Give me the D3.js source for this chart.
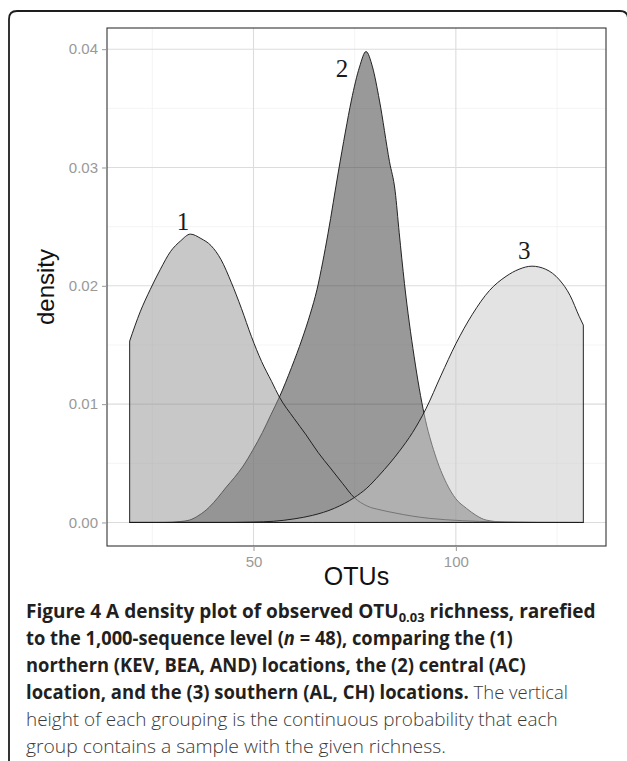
<!DOCTYPE html>
<html>
<head>
<meta charset="utf-8">
<script src="https://cdn.jsdelivr.net/npm/d3@7"></script>
<style>
  html, body { margin: 0; padding: 0; background: #fff; }
  svg { display: block; }
</style>
</head>
<body>
<svg id="chart" width="627" height="761"></svg>
<script>
// ---------------- DATA ----------------
const groupLabels = ["1", "2", "3"];

// Group 1 (northern) density curve
const g1X = [19.4, 22, 24.5, 27, 29.5, 32, 34.4, 37, 39.5, 42, 44.5, 47, 49.5, 52, 54.5, 56.4, 60, 63, 66, 69, 72, 74.9, 78, 81.5, 85, 89, 93.4, 101.6, 110, 120, 131.5];
const g1Y = [0.01533, 0.0178, 0.0197, 0.0214, 0.0229, 0.0238, 0.02437, 0.0240, 0.0234, 0.0222, 0.0203, 0.0181, 0.0157, 0.0136, 0.0119, 0.0106, 0.0088, 0.0074, 0.0059, 0.0046, 0.0033, 0.0021, 0.0014, 0.00105, 0.0008, 0.00055, 0.00035, 0.00015, 0.00005, 0.00001, 0];

// Group 2 (central) density curve
const g2X = [19.4, 28, 32, 34.2, 36.5, 39.1, 41.2, 43.3, 45.3, 47.3, 49.8, 52.2, 54.3, 56.4, 59.4, 62.0, 64.0, 65.7, 67.1, 68.4, 71.0, 72.7, 74.2, 76.2, 77.8, 79.4, 81.1, 83.6, 85.0, 86.0, 87.3, 89.7, 92.2, 94.8, 97.7, 100, 102.6, 105, 107.5, 112, 120, 131.5];
const g2Y = [0, 0, 0.00008, 0.0002, 0.0006, 0.0013, 0.0021, 0.0030, 0.0038, 0.0047, 0.0061, 0.0076, 0.0091, 0.0106, 0.0131, 0.0155, 0.0176, 0.0197, 0.0220, 0.0244, 0.0297, 0.0330, 0.0357, 0.0385, 0.0398, 0.0385, 0.0357, 0.0305, 0.0280, 0.0245, 0.0202, 0.0140, 0.0091, 0.0058, 0.0033, 0.0020, 0.0012, 0.0006, 0.0002, 0.00003, 0, 0];

// Group 3 (southern) density curve
const g3X = [19.4, 45, 50, 55, 60, 64.6, 70, 74.9, 78, 81.1, 86.0, 89.3, 92.6, 96.3, 100.0, 104.1, 108.3, 112.4, 115.6, 118.8, 122.2, 125.6, 128.2, 130.5, 131.5];
const g3Y = [0, 0, 0.00003, 0.0001, 0.0003, 0.0006, 0.0012, 0.0021, 0.0029, 0.0040, 0.0060, 0.0076, 0.0096, 0.0124, 0.0151, 0.0176, 0.0196, 0.0208, 0.0214, 0.02166, 0.0214, 0.0205, 0.0192, 0.0174, 0.01668];

const xTicks = [50, 100];
const xMinorTicks = [25, 75, 125];
const yTicks = [0, 0.01, 0.02, 0.03, 0.04];
const yMinorTicks = [0.005, 0.015, 0.025, 0.035];
const xDomain = [13.8, 137.1];
const yDomain = [-0.00199, 0.04179];
const xTitle = "OTUs";
const yTitle = "density";

// caption: each line is a list of [text, style] segments
const captionLines = [
  [["Figure 4 A density plot of observed OTU", "b"], ["0.03", "sub"], [" richness, rarefied", "b"]],
  [["to the 1,000-sequence level (", "b"], ["n", "bi"], [" = 48), comparing the (1)", "b"]],
  [["northern (KEV, BEA, AND) locations, the (2) central (AC)", "b"]],
  [["location, and the (3) southern (AL, CH) locations.", "b"], [" The vertical", "l"]],
  [["height of each grouping is the continuous probability that each", "l"]],
  [["group contains a sample with the given richness.", "l"]]
];

// ---------------- STYLE ----------------
const style = {
  panel: { left: 107, right: 606, top: 28, bottom: 546 },
  fills: ["#929292", "#333333", "#c8c8c8"],
  fillOpacity: 0.5,
  drawOrder: [1, 0, 2],
  labelOffsets: [[-7.4, -12.3], [-24, 17], [-7.7, -16]],
  captionX: 26, captionBaseline: 618, captionLineH: 27,
  captionWidths: [570, 487, 500, 542, 532, 420],
  captionSize: 19
};

// ---------------- DRAW ----------------
const svg = d3.select("#chart");
const P = style.panel;
const x = d3.scaleLinear().domain(xDomain).range([P.left, P.right]);
const y = d3.scaleLinear().domain(yDomain).range([P.bottom, P.top]);

// outer figure frame (right side falls just outside the picture)
svg.append("path")
  .attr("d", "M9,770 V19 Q9,11 17,11 H620 Q628,11 628,19 V770")
  .attr("fill", "none").attr("stroke", "#1e1e1e").attr("stroke-width", 1.8);

// panel background
svg.append("rect").attr("x", P.left).attr("y", P.top)
  .attr("width", P.right - P.left).attr("height", P.bottom - P.top).attr("fill", "#fff");

const grid = svg.append("g");
grid.selectAll(".vminor").data(xMinorTicks).join("line")
  .attr("x1", d => x(d)).attr("x2", d => x(d)).attr("y1", P.top).attr("y2", P.bottom)
  .attr("stroke", "#f1f1f1").attr("stroke-width", 0.8);
grid.selectAll(".hminor").data(yMinorTicks).join("line")
  .attr("y1", d => y(d)).attr("y2", d => y(d)).attr("x1", P.left).attr("x2", P.right)
  .attr("stroke", "#f1f1f1").attr("stroke-width", 0.8);
grid.selectAll(".vmajor").data(xTicks).join("line")
  .attr("x1", d => x(d)).attr("x2", d => x(d)).attr("y1", P.top).attr("y2", P.bottom)
  .attr("stroke", "#dcdcdc").attr("stroke-width", 1.1);
grid.selectAll(".hmajor").data(yTicks).join("line")
  .attr("y1", d => y(d)).attr("y2", d => y(d)).attr("x1", P.left).attr("x2", P.right)
  .attr("stroke", "#dcdcdc").attr("stroke-width", 1.1);

// densities
const series = [
  g1X.map((v, i) => ({ x: v, y: g1Y[i] })),
  g2X.map((v, i) => ({ x: v, y: g2Y[i] })),
  g3X.map((v, i) => ({ x: v, y: g3Y[i] }))
];
const area = d3.area()
  .x(d => x(d.x)).y0(y(0)).y1(d => y(d.y))
  .curve(d3.curveMonotoneX);

const dens = svg.append("g");
style.drawOrder.forEach(gi => {
  dens.append("path")
    .attr("d", area(series[gi]))
    .attr("fill", style.fills[gi]).attr("fill-opacity", style.fillOpacity)
    .attr("stroke", "#1a1a1a").attr("stroke-width", 0.95)
    .attr("stroke-linejoin", "round");
});

// group labels near each peak
series.forEach((s, gi) => {
  const peak = s.reduce((a, b) => (b.y > a.y ? b : a));
  svg.append("text")
    .attr("x", x(peak.x) + style.labelOffsets[gi][0])
    .attr("y", y(peak.y) + style.labelOffsets[gi][1])
    .attr("text-anchor", "middle").attr("dominant-baseline", "central")
    .attr("font-family", "'Liberation Serif', 'DejaVu Serif', serif")
    .attr("font-size", 25).attr("fill", "#1a1a1a")
    .text(groupLabels[gi]);
});

// panel border
svg.append("rect").attr("x", P.left).attr("y", P.top)
  .attr("width", P.right - P.left).attr("height", P.bottom - P.top)
  .attr("fill", "none").attr("stroke", "#333").attr("stroke-width", 1.1);

// axes
const axisFont = "'Liberation Sans', Arial, Helvetica, sans-serif";
const yAxis = svg.append("g").attr("transform", `translate(${P.left},0)`)
  .call(d3.axisLeft(y).tickValues(yTicks).tickFormat(d3.format(".2f")).tickSize(5).tickPadding(4));
const xAxis = svg.append("g").attr("transform", `translate(0,${P.bottom})`)
  .call(d3.axisBottom(x).tickValues(xTicks).tickFormat(d3.format("d")).tickSize(5).tickPadding(5));
[yAxis, xAxis].forEach(a => {
  a.select(".domain").remove();
  a.selectAll(".tick line").attr("stroke", "#9a9a9a").attr("stroke-width", 1);
  a.selectAll(".tick text").attr("fill", "#999").attr("font-size", 15).attr("font-family", axisFont);
});

// axis titles
svg.append("text")
  .attr("x", (P.left + P.right) / 2).attr("y", 585)
  .attr("text-anchor", "middle").attr("font-family", axisFont).attr("font-size", 25)
  .attr("fill", "#111").text(xTitle);
svg.append("text")
  .attr("transform", `translate(54,${(P.top + P.bottom) / 2}) rotate(-90)`)
  .attr("text-anchor", "middle").attr("font-family", axisFont).attr("font-size", 24)
  .attr("fill", "#111").text(yTitle);

// caption
const cap = svg.append("g");
const capFont = "'Open Sans', 'Noto Sans', sans-serif";
captionLines.forEach((line, li) => {
  const t = cap.append("text")
    .attr("x", 0).attr("y", 0)
    .attr("font-family", capFont).attr("font-size", style.captionSize);
  line.forEach(([txt, kind], si) => {
    const ts = t.append("tspan").text(txt);
    if (kind === "l") ts.attr("font-weight", 300).attr("fill", "#3a3a3a");
    else ts.attr("font-weight", 700).attr("fill", "#231f20");
    if (kind === "bi") ts.attr("font-style", "italic");
    if (kind === "sub") ts.attr("font-size", style.captionSize * 0.68).attr("dy", 4);
    const prev = si > 0 ? line[si - 1][1] : null;
    if (prev === "sub") ts.attr("dy", -4);
  });
  const w = t.node().getComputedTextLength();
  const sx = style.captionWidths[li] / w;
  t.attr("transform",
    `translate(${style.captionX},${style.captionBaseline + li * style.captionLineH}) scale(${sx},1)`);
});
</script>
</body>
</html>
